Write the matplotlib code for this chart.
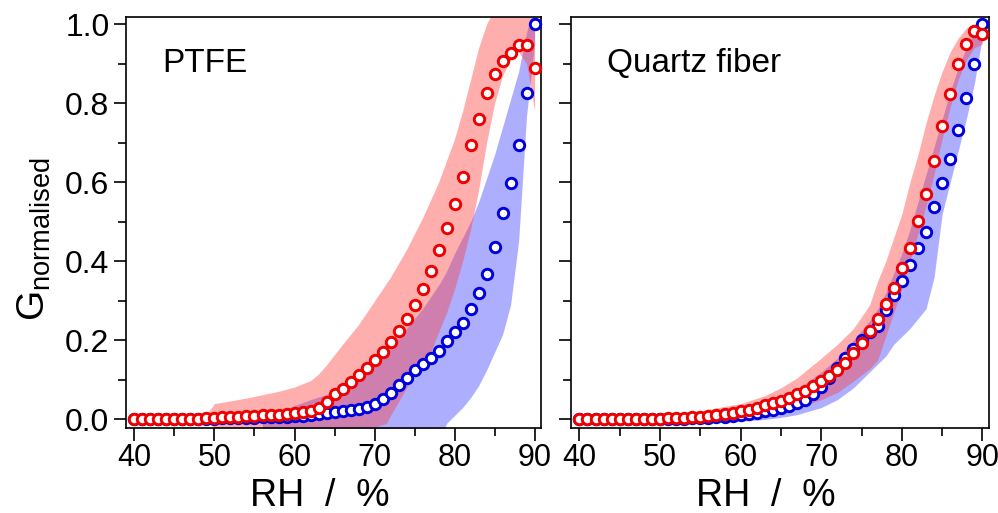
import numpy as np
import matplotlib
matplotlib.use("Agg")
import matplotlib.pyplot as plt
from matplotlib.ticker import MultipleLocator, FormatStrFormatter

plt.rcParams['font.family'] = ['Liberation Sans', 'DejaVu Sans']
plt.rcParams['mathtext.default'] = 'regular'

# ---------------------------------------------------------------- data
rh = list(range(40, 91))

ptfe_blue = [0.000, 0.000, 0.000, 0.000, 0.001, 0.001, 0.001, 0.001, 0.002, 0.002,
             0.002, 0.003, 0.003, 0.003, 0.004, 0.004, 0.005, 0.005, 0.006, 0.007,
             0.008, 0.009, 0.011, 0.013, 0.016, 0.019, 0.021, 0.024, 0.027, 0.032,
             0.040, 0.052, 0.066, 0.086, 0.105, 0.124, 0.141, 0.156, 0.173, 0.198,
             0.221, 0.244, 0.278, 0.320, 0.369, 0.437, 0.523, 0.597, 0.694, 0.825,
             1.000]
ptfe_red = [0.000, 0.000, 0.000, 0.000, 0.000, 0.001, 0.001, 0.002, 0.002, 0.003,
            0.004, 0.005, 0.006, 0.007, 0.008, 0.009, 0.010, 0.011, 0.012, 0.014,
            0.016, 0.019, 0.022, 0.029, 0.044, 0.063, 0.078, 0.094, 0.112, 0.130,
            0.149, 0.170, 0.197, 0.223, 0.253, 0.289, 0.329, 0.376, 0.428, 0.483,
            0.544, 0.612, 0.693, 0.761, 0.826, 0.873, 0.906, 0.928, 0.948, 0.948,
            0.890]
quartz_blue = [0.000, 0.000, 0.000, 0.000, 0.000, 0.000, 0.000, 0.001, 0.001, 0.001,
               0.001, 0.002, 0.002, 0.002, 0.003, 0.003, 0.004, 0.005, 0.006, 0.008,
               0.010, 0.013, 0.016, 0.020, 0.024, 0.029, 0.035, 0.042, 0.050, 0.065,
               0.083, 0.105, 0.130, 0.155, 0.178, 0.200, 0.220, 0.236, 0.277, 0.315,
               0.350, 0.391, 0.433, 0.475, 0.537, 0.598, 0.659, 0.733, 0.813, 0.898,
               1.000]
quartz_red = [0.000, 0.000, 0.000, 0.000, 0.000, 0.000, 0.001, 0.001, 0.001, 0.002,
              0.002, 0.003, 0.003, 0.004, 0.005, 0.007, 0.009, 0.011, 0.014, 0.017,
              0.020, 0.025, 0.029, 0.036, 0.041, 0.047, 0.054, 0.063, 0.073, 0.084,
              0.096, 0.109, 0.126, 0.143, 0.168, 0.194, 0.223, 0.253, 0.293, 0.332,
              0.382, 0.433, 0.501, 0.570, 0.653, 0.742, 0.822, 0.898, 0.949, 0.983,
              0.976]

# uncertainty envelopes (RH, lower, upper)
ptfe_red_band_rh = [48.5, 50, 54, 58, 60, 62, 63, 64, 66, 68, 70, 71.5, 72, 74, 76, 77,
                    78, 79, 80, 81, 82, 83, 84, 85, 86, 87, 88, 89, 90]
ptfe_red_band_lo = [0.00, -0.02, -0.02, -0.02, -0.02, -0.02, -0.02, -0.02, -0.02, -0.02,
                    -0.02, -0.01, 0.01, 0.08, 0.14, 0.17, 0.22, 0.27, 0.33, 0.40, 0.48,
                    0.58, 0.70, 0.80, 0.87, 0.91, 0.93, 0.90, 0.78]
ptfe_red_band_hi = [0.00, 0.040, 0.054, 0.071, 0.082, 0.098, 0.115, 0.138, 0.19, 0.24,
                    0.30, 0.345, 0.36, 0.43, 0.51, 0.555, 0.60, 0.655, 0.71, 0.78, 0.86,
                    0.94, 1.00, 1.04, 1.06, 1.06, 1.05, 1.03, 1.00]

ptfe_blue_band_rh = [56, 58, 62, 65, 68, 70, 72, 74, 76, 78, 78.6, 79, 80, 81, 82, 83,
                     84, 85, 86, 87, 88, 89, 90]
ptfe_blue_band_lo = [-0.03, -0.03, -0.03, -0.03, -0.03, -0.03, -0.03, -0.03, -0.03, -0.03,
                     -0.03, -0.01, 0.01, 0.03, 0.055, 0.085, 0.125, 0.17, 0.215, 0.29,
                     0.45, 0.77, 0.95]
ptfe_blue_band_hi = [0.0, 0.02, 0.05, 0.07, 0.11, 0.14, 0.18, 0.23, 0.28, 0.34,
                     0.36, 0.375, 0.42, 0.46, 0.50, 0.55, 0.61, 0.67, 0.74, 0.81,
                     0.88, 0.98, 1.05]

quartz_band_rh = [50, 55, 60, 63, 65, 67, 70, 72, 74, 76, 77, 78, 79, 80, 81, 82, 83,
                  84, 85, 86, 87, 88, 89, 90]
quartz_red_band_lo = [-0.005, -0.005, 0.0, 0.01, 0.015, 0.027, 0.05, 0.068, 0.097,
                      0.128, 0.15, 0.21, 0.27, 0.33, 0.40, 0.47, 0.54, 0.62, 0.71,
                      0.79, 0.86, 0.91, 0.94, 0.95]
quartz_red_band_hi = [0.012, 0.022, 0.04, 0.06, 0.08, 0.105, 0.155, 0.19, 0.23, 0.29,
                      0.35, 0.40, 0.46, 0.52, 0.60, 0.67, 0.75, 0.82, 0.88, 0.93,
                      0.965, 0.99, 1.00, 1.00]
quartz_blue_band_lo = [-0.005, -0.005, -0.005, 0.0, 0.005, 0.012, 0.03, 0.05, 0.08,
                       0.12, 0.14, 0.16, 0.19, 0.21, 0.23, 0.255, 0.28, 0.36, 0.52,
                       0.60, 0.68, 0.76, 0.85, 0.97]
quartz_blue_band_hi = [0.005, 0.01, 0.025, 0.04, 0.055, 0.075, 0.12, 0.155, 0.20, 0.25,
                       0.28, 0.32, 0.37, 0.42, 0.48, 0.55, 0.62, 0.69, 0.76, 0.83,
                       0.89, 0.94, 0.98, 1.02]

panel_titles = ["PTFE", "Quartz fiber"]
x_ticks = [40, 50, 60, 70, 80, 90]
y_ticks = [0.0, 0.2, 0.4, 0.6, 0.8, 1.0]

RED = '#ee0000'
BLUE = '#0000dd'
RED_FILL = '#ff4040'
BLUE_FILL = '#4040ff'

# ---------------------------------------------------------------- figure
fig = plt.figure(figsize=(9.98, 5.13), dpi=100)
ax1 = fig.add_axes([0.1263, 0.1663, 0.4158, 0.8006])
ax2 = fig.add_axes([0.5721, 0.1663, 0.4188, 0.8006])

panels = [
    (ax1, ptfe_blue, ptfe_red,
     (ptfe_red_band_rh, ptfe_red_band_lo, ptfe_red_band_hi),
     (ptfe_blue_band_rh, ptfe_blue_band_lo, ptfe_blue_band_hi)),
    (ax2, quartz_blue, quartz_red,
     (quartz_band_rh, quartz_red_band_lo, quartz_red_band_hi),
     (quartz_band_rh, quartz_blue_band_lo, quartz_blue_band_hi)),
]

for i, (ax, blue, red, rband, bband) in enumerate(panels):
    ax.fill_between(bband[0], bband[1], bband[2], color=BLUE_FILL, alpha=0.42, lw=0, zorder=1)
    ax.fill_between(rband[0], rband[1], rband[2], color=RED_FILL, alpha=0.42, lw=0, zorder=1)
    ax.plot(rh, blue, ls='none', marker='o', ms=7.5, mew=2.1, mec=BLUE, mfc='white',
            zorder=3, clip_on=False)
    ax.plot(rh, red, ls='none', marker='o', ms=7.5, mew=2.1, mec=RED, mfc='white',
            zorder=4, clip_on=False)

    ax.set_xlim(38.95, 90.8)
    ax.set_ylim(-0.021, 1.018)
    ax.set_xticks(x_ticks)
    ax.set_yticks(y_ticks)
    ax.xaxis.set_minor_locator(MultipleLocator(5))
    ax.yaxis.set_minor_locator(MultipleLocator(0.1))
    ax.tick_params(which='major', direction='out', length=9, width=1.2)
    ax.tick_params(which='minor', direction='out', length=6, width=1.2)
    ax.tick_params(axis='y', labelsize=23, pad=3)
    ax.tick_params(axis='x', labelsize=22, pad=2)
    for s in ax.spines.values():
        s.set_linewidth(1.2)
    ax.set_xlabel('RH  /  %', fontsize=27)
    ax.xaxis.set_label_coords(0.466, -0.122)
    ax.text(0.087, 0.867, panel_titles[i], transform=ax.transAxes, fontsize=24,
            ha='left', va='baseline')

ax1.yaxis.set_major_formatter(FormatStrFormatter('%.1f'))
ax2.tick_params(axis='y', labelleft=False)
ax1.set_ylabel('G$_{normalised}$', fontsize=28)
ax1.yaxis.set_label_coords(-0.175, 0.46)

fig.savefig('out.png', dpi=100)
